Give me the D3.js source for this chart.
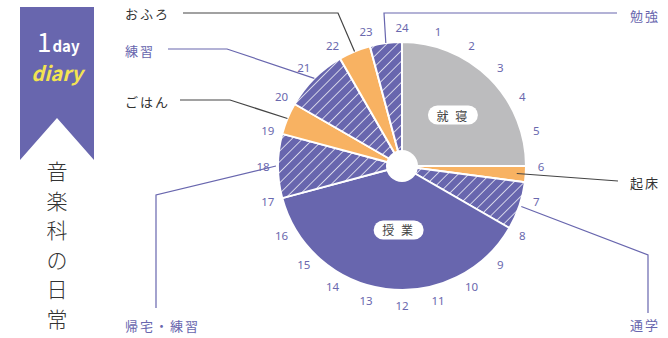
<!DOCTYPE html>
<html lang="ja">
<head>
<meta charset="UTF-8">
<title>音楽科の日常</title>
<script src="https://d3js.org/d3.v7.min.js"></script>
<style>
    body { margin: 0; background: #fff; }
    text { font-family: "Noto Sans CJK JP", "Noto Sans", sans-serif; }
    .hour { fill: #6a68ae; font-size: 11.5px; font-family: "Noto Sans", sans-serif; }
</style>
</head>
<body>
<svg id="chart" width="668" height="338"></svg>
<script>
    // activities, start/end hour (clockwise from 24:00 at top)
    const names  = ["就寝", "起床", "通学", "授業", "帰宅・練習", "ごはん", "練習", "おふろ", "勉強"];
    const starts = [0, 6, 6.5, 8, 17, 19, 20, 22, 23];
    const ends   = [6, 6.5, 8, 17, 19, 20, 22, 23, 24];
    const kinds  = ["sleep", "life", "hatch", "class", "hatch", "life", "hatch", "life", "hatch"];
    const hours  = d3.range(1, 25);

    const colors = { sleep: "#bcbcbe", life: "#f8b262", class: "#6866ae", hatch: "url(#hatch)" };
    const purple = "#6866ae";
    const dark = "#444";

    const svg = d3.select("#chart");
    const cx = 402, cy = 166, R = 124, r0 = 16;

    // hatch pattern
    const defs = svg.append("defs");
    const pat = defs.append("pattern")
        .attr("id", "hatch")
        .attr("patternUnits", "userSpaceOnUse")
        .attr("width", 7.5).attr("height", 7.5)
        .attr("patternTransform", "rotate(45)");
    pat.append("rect").attr("width", 7.5).attr("height", 7.5).attr("fill", purple);
    pat.append("line").attr("x1", 0).attr("y1", 0).attr("x2", 0).attr("y2", 7.5)
        .attr("stroke", "#fff").attr("stroke-width", 1.4);

    const angle = d3.scaleLinear().domain([0, 24]).range([0, 2 * Math.PI]);
    const arc = d3.arc().innerRadius(0).outerRadius(R);

    const slices = names.map((n, i) => ({ name: n, start: starts[i], end: ends[i], kind: kinds[i] }));

    const g = svg.append("g").attr("transform", "translate(" + cx + "," + cy + ")");

    g.selectAll(".slice")
        .data(slices)
        .enter().append("path")
        .attr("class", "slice")
        .attr("d", d => arc({ startAngle: angle(d.start), endAngle: angle(d.end) }))
        .attr("fill", d => colors[d.kind])
        .attr("stroke", "#fff")
        .attr("stroke-width", 2)
        .attr("stroke-linejoin", "round");

    g.append("circle").attr("r", r0).attr("fill", "#fff");

    // hour labels
    g.selectAll(".hour")
        .data(hours)
        .enter().append("text")
        .attr("class", "hour")
        .attr("x", d => Math.sin(angle(d)) * 139)
        .attr("y", d => -Math.cos(angle(d)) * 139)
        .attr("text-anchor", "middle")
        .attr("dominant-baseline", "central")
        .text(d => d);

    // pill labels inside the two big slices
    const pills = [
        { name: "就寝", at: 3, rad: 72 },
        { name: "授業", at: 12.2, rad: 64 }
    ];
    pills.forEach(p => {
        const px = Math.sin(angle(p.at)) * p.rad;
        const py = -Math.cos(angle(p.at)) * p.rad;
        g.append("rect")
            .attr("x", px - 25).attr("y", py - 9.5)
            .attr("width", 50).attr("height", 19)
            .attr("rx", 9.5)
            .attr("fill", "#fff");
        g.append("text")
            .attr("x", px).attr("y", py)
            .attr("text-anchor", "middle")
            .attr("dominant-baseline", "central")
            .attr("font-size", 12)
            .attr("letter-spacing", 2)
            .attr("fill", "#444")
            .text(p.name.split("").join(" "));
    });

    // callouts: label position, elbow points, anchor radius
    const callouts = [
        { name: "おふろ", tx: 125, ty: 13, color: dark, pts: [[183, 13], [338, 13]], rad: R },
        { name: "練習", tx: 125, ty: 50, color: purple, pts: [[168, 49], [227, 49]], rad: R },
        { name: "ごはん", tx: 125, ty: 101, color: dark, pts: [[180, 100], [230, 100]], rad: R },
        { name: "勉強", tx: 630, ty: 15, color: purple, pts: [[617, 13], [384, 13]], rad: R },
        { name: "起床", tx: 630, ty: 182, color: dark, pts: [[618, 181]], rad: R - 9 },
        { name: "通学", tx: 630, ty: 324, color: purple, pts: [[648, 313], [648, 255]], rad: R + 2 },
        { name: "帰宅・練習", tx: 125, ty: 325, color: purple, pts: [[156, 308], [156, 195]], rad: R + 2 }
    ];

    callouts.forEach(c => {
        const s = slices.find(d => d.name === c.name);
        const mid = angle((s.start + s.end) / 2);
        const ax = cx + Math.sin(mid) * c.rad;
        const ay = cy - Math.cos(mid) * c.rad;
        svg.append("path")
            .attr("d", d3.line()(c.pts.concat([[ax, ay]])))
            .attr("fill", "none")
            .attr("stroke", c.color)
            .attr("stroke-width", 1.2);
        svg.append("text")
            .attr("x", c.tx).attr("y", c.ty)
            .attr("dominant-baseline", "central")
            .attr("font-size", 13)
            .attr("letter-spacing", 2)
            .attr("fill", c.color === dark ? "#333" : purple)
            .text(c.name);
    });

    // ribbon banner
    const bx0 = 20, bx1 = 94, by0 = 7, by1 = 160, notch = 118;
    svg.append("path")
        .attr("d", d3.line()([[bx0, by0], [bx1, by0], [bx1, by1], [(bx0 + bx1) / 2, notch], [bx0, by1]]) + "Z")
        .attr("fill", "#6866ae");

    const t1 = svg.append("text").attr("x", 37).attr("y", 52).attr("fill", "#fff")
        .attr("font-family", "Lato, sans-serif");
    t1.append("tspan").attr("font-size", 26).attr("font-weight", 400).text("1");
    t1.append("tspan").attr("font-size", 15).attr("font-weight", 700).attr("dx", 1).text("day");

    svg.append("text")
        .attr("x", 57).attr("y", 81)
        .attr("text-anchor", "middle")
        .attr("font-size", 20)
        .attr("font-style", "italic")
        .attr("font-weight", "bold")
        .attr("font-family", "'DejaVu Serif', serif")
        .attr("fill", "#f3e352")
        .text("diary");

    const title = "音楽科の日常".split("");
    svg.selectAll(".title")
        .data(title)
        .enter().append("text")
        .attr("class", "title")
        .attr("x", 57)
        .attr("y", (d, i) => 170 + i * 29.5)
        .attr("text-anchor", "middle")
        .attr("dominant-baseline", "central")
        .attr("font-size", 21)
        .attr("font-weight", 300)
        .attr("fill", "#333")
        .text(d => d);
</script>
</body>
</html>
